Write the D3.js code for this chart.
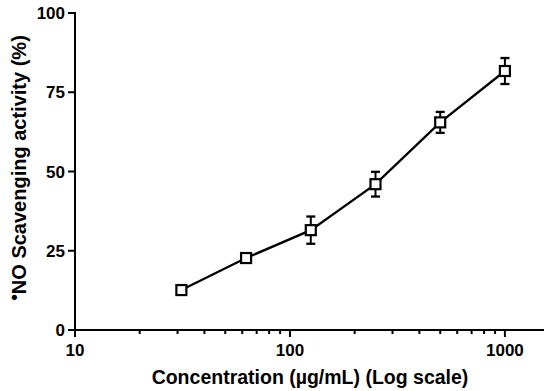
<!DOCTYPE html>
<html><head><meta charset="utf-8">
<script src="https://cdn.jsdelivr.net/npm/d3@7"></script>
<style>body{margin:0;background:#fff;} text{font-family:"Liberation Sans",Arial,sans-serif;font-weight:bold;fill:#000;}</style>
</head><body>
<svg id="c" width="550" height="391"></svg>
<script>
const concentrations = [31.25, 62.5, 125, 250, 500, 1000];
const scavenging = [12.6, 22.7, 31.5, 46.0, 65.5, 81.7];
const errors = [1.2, 1.0, 4.3, 3.9, 3.3, 4.1];
const xTicks = [10, 100, 1000];
const yTicks = [0, 25, 50, 75, 100];

const svg = d3.select("#c");
const x = d3.scaleLog().domain([10, 1520]).range([75, 544]);
const y = d3.scaleLinear().domain([0, 100]).range([330, 13]);

const minor = [];
for (let d = 10; d <= 1000; d *= 10) for (let k = 2; k <= 9; k++) if (d*k <= 1520) minor.push(d*k);

const xg = svg.append("g").attr("transform","translate(0,330)");
xg.append("line").attr("x1",74).attr("x2",544).attr("y1",0).attr("y2",0).attr("stroke","#000").attr("stroke-width",2);
xg.selectAll(".mj").data(xTicks).join("line").attr("x1",d=>x(d)).attr("x2",d=>x(d)).attr("y1",0).attr("y2",7).attr("stroke","#000").attr("stroke-width",2);
xg.selectAll(".mn").data(minor).join("line").attr("x1",d=>x(d)).attr("x2",d=>x(d)).attr("y1",0).attr("y2",4).attr("stroke","#000").attr("stroke-width",2);
xg.selectAll(".lb").data(xTicks).join("text").attr("x",d=>x(d)).attr("y",26).attr("text-anchor","middle").style("font-size","17px").text(d=>d);

const yg = svg.append("g");
yg.append("line").attr("x1",75).attr("x2",75).attr("y1",12).attr("y2",331).attr("stroke","#000").attr("stroke-width",2);
yg.selectAll(".t").data(yTicks).join("line").attr("x1",68).attr("x2",75).attr("y1",d=>y(d)).attr("y2",d=>y(d)).attr("stroke","#000").attr("stroke-width",2);
yg.selectAll(".l").data(yTicks).join("text").attr("x",65).attr("y",d=>y(d)+6).attr("text-anchor","end").style("font-size","17px").text(d=>d);

svg.append("text").attr("x",310).attr("y",384).attr("text-anchor","middle").style("font-size","19.5px").text("Concentration (µg/mL) (Log scale)");
const yt = svg.append("text").attr("transform","translate(26,168) rotate(-90)").attr("text-anchor","middle").style("font-size","20px");
yt.append("tspan").attr("dy","-6").style("font-size","19px").text("•");
yt.append("tspan").attr("dy","6").text("NO Scavenging activity (%)");

const data = concentrations.map((c,i)=>({c, v:scavenging[i], e:errors[i]}));

svg.append("path").datum(data).attr("fill","none").attr("stroke","#000").attr("stroke-width",2.3)
  .attr("d", d3.line().x(d=>x(d.c)).y(d=>y(d.v)));

const eb = svg.selectAll(".eb").data(data.filter(d=>d.e>2)).join("g");
eb.append("line").attr("x1",d=>x(d.c)).attr("x2",d=>x(d.c)).attr("y1",d=>y(d.v+d.e)).attr("y2",d=>y(d.v-d.e)).attr("stroke","#000").attr("stroke-width",2);
eb.append("line").attr("x1",d=>x(d.c)-4.5).attr("x2",d=>x(d.c)+4.5).attr("y1",d=>y(d.v+d.e)).attr("y2",d=>y(d.v+d.e)).attr("stroke","#000").attr("stroke-width",2.3);
eb.append("line").attr("x1",d=>x(d.c)-4.5).attr("x2",d=>x(d.c)+4.5).attr("y1",d=>y(d.v-d.e)).attr("y2",d=>y(d.v-d.e)).attr("stroke","#000").attr("stroke-width",2.3);

svg.selectAll(".m").data(data).join("rect").attr("x",d=>x(d.c)-5).attr("y",d=>y(d.v)-5).attr("width",10).attr("height",10)
  .attr("fill","#fff").attr("stroke","#000").attr("stroke-width",2.2);
</script>
</body></html>
